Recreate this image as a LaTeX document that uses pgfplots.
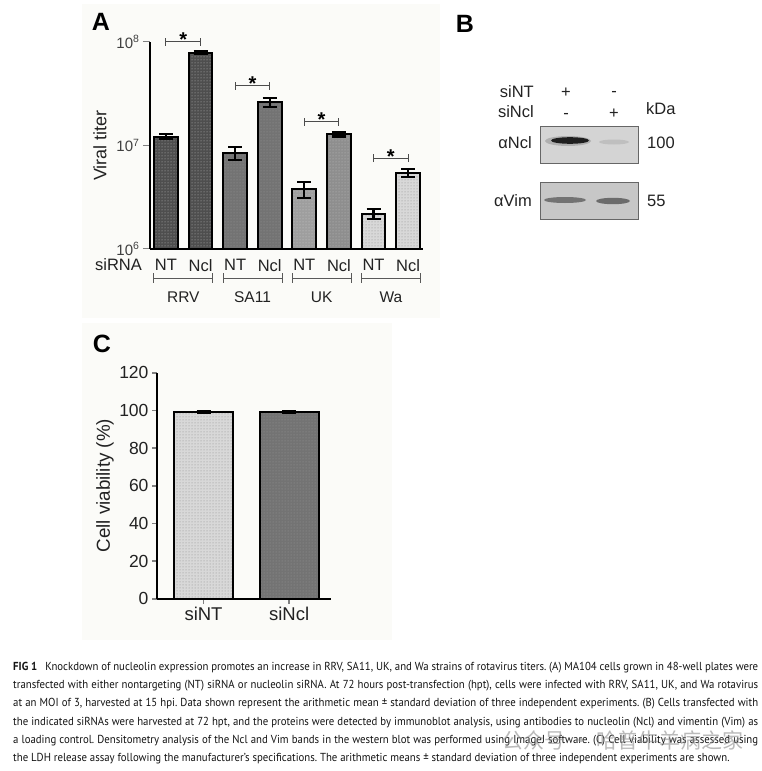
\documentclass[border=0pt]{standalone}
\usepackage{fontspec}
\setmainfont{Liberation Sans}
\newfontfamily\capfont[FakeStretch=0.93]{PT Sans}
\newfontfamily\cjk{Noto Sans CJK SC}
\usepackage{pgfplots}
\pgfplotsset{compat=1.18}
\usetikzlibrary{patterns}

\definecolor{rrv}{HTML}{4E4E4E}
\definecolor{sa}{HTML}{737373}
\definecolor{uknt}{HTML}{9E9E9E}
\definecolor{ukncl}{HTML}{8E8E8E}
\definecolor{wa}{HTML}{D8D8D8}
\definecolor{blotbg}{HTML}{D4D4D4}
\definecolor{txt}{HTML}{222222}
\newcommand\fs[1]{\fontsize{#1}{#1}\selectfont}
% significance bracket between x=#1 and x=#2 at height #3, star at x=#4
\newcommand\sig[4]{%
  \draw[line width=1pt, black!70] (axis cs:#1,#3) -- (axis cs:#2,#3);
  \draw[line width=1pt, black!70] ([yshift=-4pt]axis cs:#1,#3) -- ([yshift=4pt]axis cs:#1,#3);
  \draw[line width=1pt, black!70] ([yshift=-4pt]axis cs:#2,#3) -- ([yshift=4pt]axis cs:#2,#3);
  \node[font=\bfseries\fs{20}, anchor=base, inner sep=0pt] at ([yshift=-5pt]axis cs:#4,#3) {*};
}

\pgfplotsset{
  gbar/.style 2 args={ybar, bar width=0.69, bar shift=0pt,
    draw=black, line width=2pt, fill=#1,
    postaction={pattern=dots, pattern color=#2},
    error bars/.cd, y dir=both, y explicit,
    error bar style={line width=2.2pt, draw=black},
    error mark options={rotate=90, mark size=7pt, line width=2.2pt, draw=black}},
}

\begin{document}
\frenchspacing
\begin{tikzpicture}
\fill[white] (0pt,0pt) rectangle (762pt,-771pt);
\path[use as bounding box] (0pt,0pt) rectangle (762pt,-771pt);
% faint panel backgrounds
\fill[color={rgb,255:red,251;green,251;blue,248}] (82pt,-4pt) rectangle (440pt,-318pt);
\fill[color={rgb,255:red,251;green,251;blue,248}] (82pt,-323pt) rectangle (392pt,-640pt);

% ---------- panel A ----------
\node[font=\bfseries\fs{25}] at (101pt,-22pt) {A};
\begin{axis}[
  at={(150pt,-249pt)}, anchor=south west,
  scale only axis, width=273pt, height=207pt,
  ymode=log, ymin=1e6, ymax=1e8, log origin=infty,
  xmin=-0.46, xmax=7.43,
  axis x line*=bottom, axis y line*=left,
  axis line style={line width=1.8pt},
  ytick={1e6,1e7,1e8},
  yticklabels={10\textsuperscript{6},10\textsuperscript{7},10\textsuperscript{8}},
  yminorticks=false,
  xtick={0,...,7},
  xticklabels={NT,Ncl,NT,Ncl,NT,Ncl,NT,Ncl},
  xtick style={draw=none},
  ytick style={line width=1pt},
  tick align=outside, major tick length=7pt,
  ticklabel style={text=txt},
  yticklabel style={font=\fs{15}, text=black!75},
  xticklabel style={font=\fs{16.5}},
  ylabel={Viral titer},
  ylabel style={at={(axis description cs:-0.183,0.5)}, anchor=center, font=\fs{18}, text=txt},
  clip=false,
]
\addplot[gbar={rrv}{black!25}] coordinates {(0,1.22e7) +- (0,0.06e7)};
\addplot[gbar={rrv}{black!25}] coordinates {(1,7.87e7) +- (0,0.25e7)};
\addplot[gbar={sa}{black!40}] coordinates {(2,8.5e6) +- (0,1.2e6)};
\addplot[gbar={sa}{black!40}] coordinates {(3,2.62e7) +- (0,0.27e7)};
\addplot[gbar={uknt}{black!20}] coordinates {(4,3.76e6) +- (0,0.66e6)};
\addplot[gbar={ukncl}{black!25}] coordinates {(5,1.28e7) +- (0,0.06e7)};
\addplot[gbar={wa}{black!45}] coordinates {(6,2.2e6) +- (0,0.25e6)};
\addplot[gbar={wa}{black!45}] coordinates {(7,5.45e6) +- (0,0.5e6)};
\sig{0}{1}{1e8}{0.5}
\sig{2}{3}{3.76e7}{2.5}
\sig{4}{5}{1.69e7}{4.5}
\sig{6}{7}{7.57e6}{6.5}
\end{axis}
\node[font=\fs{16.5}, text=txt] at (118.5pt,-265pt) {siRNA};
\foreach \cx/\lab in {183.3/RRV, 252.5/SA11, 321.7/UK, 390.9/Wa}{
  \draw[line width=1pt, black!65] (\cx pt-29.5pt,-278pt) -- (\cx pt+29.5pt,-278pt);
  \draw[line width=1pt, black!65] (\cx pt-29.5pt,-273pt) -- (\cx pt-29.5pt,-283pt);
  \draw[line width=1pt, black!65] (\cx pt+29.5pt,-273pt) -- (\cx pt+29.5pt,-283pt);
  \node[font=\fs{15.5}, text=txt] at (\cx pt,-297pt) {\lab};
}

% ---------- panel B ----------
\node[font=\bfseries\fs{25}] at (465pt,-24pt) {B};
\begin{scope}[font=\fs{16.5}, text=txt]
  \node[anchor=base east, inner sep=0pt] at (534pt,-97pt) {siNT};
  \node[anchor=base east, inner sep=0pt] at (534pt,-117pt) {siNcl};
  \node[anchor=base, inner sep=0pt] at (566pt,-97pt) {+};
  \node[anchor=base, inner sep=0pt] at (566pt,-118pt) {-};
  \node[anchor=base, inner sep=0pt] at (614pt,-96pt) {-};
  \node[anchor=base, inner sep=0pt] at (614pt,-118pt) {+};
  \node[anchor=base west, inner sep=0pt] at (646pt,-114pt) {kDa};
  \node[anchor=base east, inner sep=0pt] at (532pt,-148pt) {αNcl};
  \node[anchor=base west, inner sep=0pt] at (647pt,-148pt) {100};
  \node[anchor=base east, inner sep=0pt] at (532pt,-206pt) {αVim};
  \node[anchor=base west, inner sep=0pt] at (647pt,-206pt) {55};
\end{scope}
\fill[blotbg] (540pt,-126pt) rectangle (638pt,-163pt);
\fill[black!45, opacity=0.5] (568pt,-141pt) ellipse [x radius=23pt, y radius=5pt];
\fill[black!88] (570pt,-140.5pt) ellipse [x radius=19pt, y radius=3.3pt];
\fill[black!25] (614pt,-142pt) ellipse [x radius=15pt, y radius=2.5pt];
\draw[line width=1pt, black!60] (540pt,-126pt) rectangle (638pt,-163pt);
\fill[black!22] (540pt,-182pt) rectangle (638pt,-219pt);
\fill[black!55] (565pt,-200pt) ellipse [x radius=21pt, y radius=3pt];
\fill[black!58] (613pt,-201pt) ellipse [x radius=17pt, y radius=3.2pt];
\draw[line width=1pt, black!60] (540pt,-182pt) rectangle (638pt,-219pt);

% ---------- panel C ----------
\node[font=\bfseries\fs{25}] at (102pt,-344pt) {C};
\begin{axis}[
  at={(157pt,-598.7pt)}, anchor=south west,
  scale only axis, width=174pt, height=226pt,
  ymin=0, ymax=120, xmin=-0.544, xmax=1.49,
  axis x line*=bottom, axis y line*=left,
  axis line style={line width=1.8pt},
  ytick={0,20,...,120},
  xtick={0,1}, xticklabels={siNT,siNcl},
  tick style={line width=1.6pt},
  tick align=outside, major tick length=5pt,
  ticklabel style={text=txt},
  yticklabel style={font=\fs{17.5}, /pgf/number format/assume math mode=true},
  xticklabel style={font=\fs{18.5}},
  ylabel={Cell viability (\%)},
  ylabel style={at={(axis description cs:-0.299,0.5)}, anchor=center, font=\fs{18.8}, text=txt},
  clip=false,
]
\addplot[gbar={wa}{black!45}] coordinates {(0,99.0) +- (0,0.6)};
\addplot[gbar={sa}{black!40}] coordinates {(1,99.0) +- (0,0.6)};
\end{axis}

% ---------- caption ----------
\node[anchor=north west, inner sep=0pt, text width=745pt, align=justify,
      font=\capfont\fontsize{11.6}{18.2}\selectfont, text=black!92] at (13pt,-662pt)
{\textbf{FIG 1}\hspace{0.7em}Knockdown of nucleolin expression promotes an increase in RRV, SA11, UK, and Wa strains of rotavirus titers. (A) MA104 cells grown in 48-well plates were\linebreak
transfected with either nontargeting (NT) siRNA or nucleolin siRNA. At 72 hours post-transfection (hpt), cells were infected with RRV, SA11, UK, and Wa rotavirus\linebreak
at an MOI of 3, harvested at 15 hpi. Data shown represent the arithmetic mean ± standard deviation of three independent experiments. (B) Cells transfected with\linebreak
the indicated siRNAs were harvested at 72 hpt, and the proteins were detected by immunoblot analysis, using antibodies to nucleolin (Ncl) and vimentin (Vim) as\linebreak
a loading control. Densitometry analysis of the Ncl and Vim bands in the western blot was performed using ImageJ software. (C) Cell viability was assessed using\linebreak
the LDH release assay following the manufacturer’s specifications. The arithmetic means ± standard deviation of three independent experiments are shown.};

% watermark
\node[font=\cjk\fs{21}, text=black!45, opacity=0.6] at (623pt,-740pt) {公众号 · 哈普牛羊病之家};
\end{tikzpicture}
\end{document}
